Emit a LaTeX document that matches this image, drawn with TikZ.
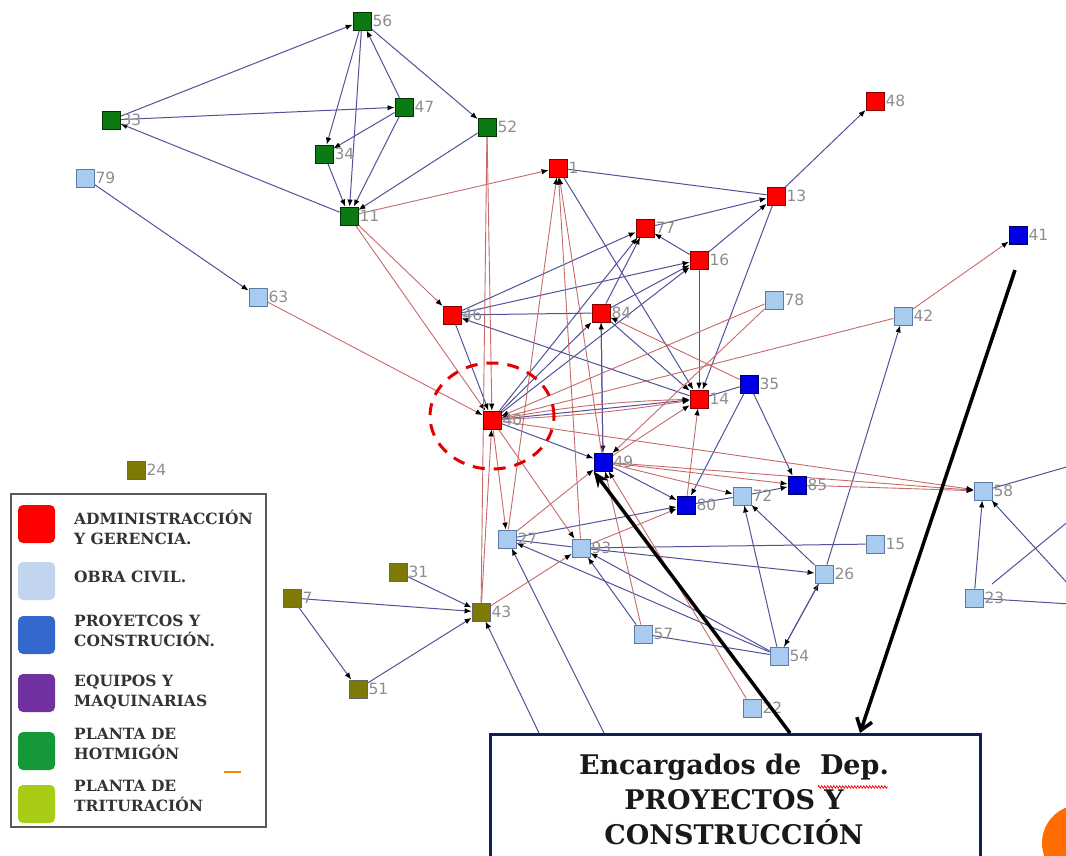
\documentclass[tikz,border=0pt]{standalone}
\usepackage{fontspec}
\usetikzlibrary{arrows.meta,decorations.pathmorphing}
\newfontfamily\lblfont{DejaVu Sans}
\newfontfamily\legfont{DejaVu Serif}
\newfontfamily\boxfont{DejaVu Serif}
\definecolor{nred}{HTML}{FF0000}
\definecolor{nlb}{HTML}{A9CBF0}
\definecolor{nlbd}{HTML}{5A7AA8}
\definecolor{nblue}{HTML}{0000E6}
\definecolor{ngreen}{HTML}{0B7A12}
\definecolor{nolive}{HTML}{7D7A05}
\definecolor{eblue}{HTML}{52529A}
\definecolor{ered}{HTML}{C86A6A}
\definecolor{lred}{HTML}{FF0000}
\definecolor{llb}{HTML}{C3D4EE}
\definecolor{lblue}{HTML}{3468CC}
\definecolor{lpurple}{HTML}{7030A0}
\definecolor{lgreen}{HTML}{159838}
\definecolor{llime}{HTML}{A8CC14}
\definecolor{boxblue}{HTML}{102050}
\definecolor{lblgray}{HTML}{8E8E8E}
\pgfdeclarelayer{background}
\pgfsetlayers{background,main}
\tikzset{
  nd/.style={rectangle, minimum size=18pt, inner sep=0pt, line width=0.8pt},
  rn/.style={nd, fill=nred, draw=red!50!black},
  lb/.style={nd, fill=nlb, draw=nlbd},
  bn/.style={nd, fill=nblue, draw=blue!40!black},
  gn/.style={nd, fill=ngreen, draw=green!20!black},
  on/.style={nd, fill=nolive, draw=black!60},
  every label/.style={text=lblgray, font=\lblfont\fontsize{15.5}{15.5}\selectfont, inner sep=1pt},
  tip/.style={-{Latex[length=7pt,width=5.5pt,color=black]}},
  be/.style={draw=eblue, line width=1pt, tip},
  bp/.style={draw=eblue, line width=1pt},
  re/.style={draw=ered, line width=0.9pt, tip},
  rp/.style={draw=ered, line width=0.9pt},
  sw/.style={rectangle, rounded corners=5pt, minimum width=37pt, minimum height=38pt, inner sep=0pt},
  legtxt/.style={anchor=west, align=left, text=black!80, font=\legfont\bfseries\fontsize{15.5}{20}\selectfont, inner sep=0pt},
}
\begin{document}
\begin{tikzpicture}[x=1pt,y=-1pt]
\useasboundingbox (0,0) rectangle (1066,855);
\clip (0,0) rectangle (1066,855);
% nodes
\node[gn,label=right:56] (n56) at (362,21) {};
\node[gn,label=right:33] (n33) at (111,120) {};
\node[gn,label=right:47] (n47) at (404,107) {};
\node[gn,label=right:52] (n52) at (487,127) {};
\node[gn,label=right:34] (n34) at (324,154) {};
\node[gn,label=right:11] (n11) at (349,216) {};
\node[lb,label=right:79] (n79) at (85,178) {};
\node[lb,label=right:63] (n63) at (258,297) {};
\node[rn,label=right:48] (n48) at (875,101) {};
\node[rn,label=right:1] (n1) at (558,168) {};
\node[rn,label=right:13] (n13) at (776,196) {};
\node[rn,label=right:77] (n77) at (645,228) {};
\node[rn,label=right:16] (n16) at (699,260) {};
\node[rn,label=right:46] (n46) at (452,315) {};
\node[rn,label=right:84] (n84) at (601,313) {};
\node[rn,label=right:14] (n14) at (699,399) {};
\node[rn,label=right:40] (n40) at (492,420) {};
\node[bn,label=right:41] (n41) at (1018,235) {};
\node[bn,label=right:35] (n35) at (749,384) {};
\node[bn,label=right:49] (n49) at (603,462) {};
\node[bn,label=right:85] (n85) at (797,485) {};
\node[bn,label=right:80] (n80) at (686,505) {};
\node[lb,label=right:78] (n78) at (774,300) {};
\node[lb,label=right:42] (n42) at (903,316) {};
\node[lb,label=right:72] (n72) at (742,496) {};
\node[lb,label=right:58] (n58) at (983,491) {};
\node[lb,label=right:27] (n27) at (507,539) {};
\node[lb,label=right:93] (n93) at (581,548) {};
\node[lb,label=right:15] (n15) at (875,544) {};
\node[lb,label=right:26] (n26) at (824,574) {};
\node[lb,label=right:23] (n23) at (974,598) {};
\node[lb,label=right:57] (n57) at (643,634) {};
\node[lb,label=right:54] (n54) at (779,656) {};
\node[lb,label=right:22] (n22) at (752,708) {};
\node[on,label=right:24] (n24) at (136,470) {};
\node[on,label=right:31] (n31) at (398,572) {};
\node[on,label=right:7] (n7) at (292,598) {};
\node[on,label=right:43] (n43) at (481,612) {};
\node[on,label=right:51] (n51) at (358,689) {};
% free ends
\coordinate (r1) at (1070,466);
\coordinate (r2) at (1070,520);
\coordinate (r2s) at (992,584);
\coordinate (r3) at (1070,586);
\coordinate (r4) at (1070,604);
\coordinate (b1) at (540,735);
\coordinate (b2) at (605,735);
\coordinate (k1) at (790,733);
\coordinate (k2) at (1015,270);
\coordinate (k3) at (860,733);
\begin{pgfonlayer}{background}
\fill[white] (0,0) rectangle (1066,855);
\foreach \a/\b in {33/56,33/47,11/33,56/34,56/11,47/56,47/11,34/11,47/34,56/52,52/11,79/63,13/48,77/13,16/13,16/77,13/14,1/14,16/14,46/77,46/16,84/16,40/77,40/16,40/84,84/77,46/40,14/46,84/14,35/85,35/80,49/80,27/80,93/26,26/72,54/72,54/26,26/54,54/93,54/27,57/93,26/42,31/43,7/43,7/51,51/43,23/58,84/49,49/84,72/85,40/49,40/14}
  \draw[be] (n\a) -- (n\b);
\foreach \a/\b in {1/13,46/84,93/15,57/54,80/72,35/14,27/93}
  \draw[bp] (n\a) -- (n\b);
\foreach \a/\b in {11/1,11/46,11/40,52/40,63/40,27/1,93/1,49/1,78/40,78/49,42/40,42/41,35/84,40/58,49/58,85/58,49/85,40/27,43/40,93/80,80/14,49/14,57/49,22/49,43/93,40/93,27/49,49/72}
  \draw[re] (n\a) -- (n\b);
\draw[re] (n40) to[bend left=4] (n14);
\draw[re] (n40) to[bend right=3] (n14);
\draw[rp] (n52) -- (n43);
\draw[bp] (n58) -- (r1);
\draw[bp] (r2s) -- (r2);
\draw[be] (r3) -- (n58);
\draw[bp] (n23) -- (r4);
\draw[be] (b1) -- (n43);
\draw[be] (b2) -- (n27);
\end{pgfonlayer}
% dashed ellipse
\draw[color=red!90!black, line width=3pt, dash pattern=on 12pt off 9pt] (492,416) ellipse [x radius=62pt, y radius=53pt];
% legend
\node[draw=black!65, line width=2pt, fill=white, minimum width=255pt, minimum height=333pt, anchor=north west, inner sep=0pt] (leg) at (10,493) {};
\node[sw, fill=lred] (s1) at (36.5,524) {};
\node[sw, fill=llb] (s2) at (36.5,581) {};
\node[sw, fill=lblue] (s3) at (36.5,635) {};
\node[sw, fill=lpurple] (s4) at (36.5,693) {};
\node[sw, fill=lgreen] (s5) at (36.5,751) {};
\node[sw, fill=llime] (s6) at (36.5,804) {};
\node[legtxt] (t1) at (74,527) {ADMINISTRACCIÓN\\Y GERENCIA.};
\node[legtxt] (t2) at (74,577) {OBRA CIVIL.};
\node[legtxt] (t3) at (74,631) {PROYETCOS Y\\CONSTRUCIÓN.};
\node[legtxt] (t4) at (74,692) {EQUIPOS Y\\MAQUINARIAS};
\node[legtxt] (t5) at (74,744) {PLANTA DE\\HOTMIGÓN};
\node[legtxt] (t6) at (74,796) {PLANTA DE\\TRITURACIÓN};
\draw[orange, line width=1.2pt] (224,772) -- (241,772);
% box
\node[draw=boxblue, line width=2.5pt, fill=white, anchor=north west, minimum width=490pt, minimum height=140pt, inner sep=0pt] (box) at (489,733) {};
\node[anchor=north, align=center, font=\boxfont\bfseries\fontsize{27}{35}\selectfont, inner sep=0pt, text=black!90] (boxt) at (734,754) {Encargados de\ \ Dep.\\PROYECTOS Y\\CONSTRUCCIÓN};
\draw[red, line width=0.7pt, decorate, decoration={zigzag, amplitude=1.3pt, segment length=3pt}] (818,787) -- (888,787);
% black arrows
\draw[line width=3.5pt, -{Stealth[length=16pt,width=13pt]}] (k1) -- (n49.south west);
\draw[line width=3.5pt, -{Straight Barb[length=11pt,width=16pt]}] (k2) -- (k3);
% orange circle
\fill[orange!85!red] (1080,843) circle (38pt);
\end{tikzpicture}
\end{document}
